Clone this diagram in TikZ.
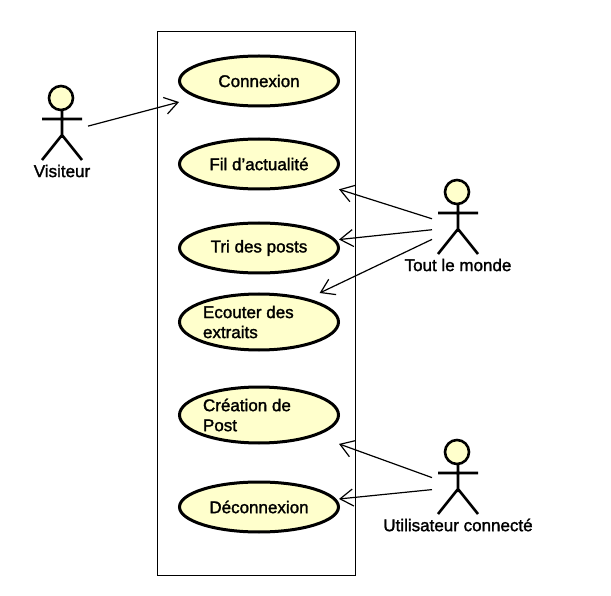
\documentclass[tikz,border=0pt]{standalone}
\usepackage{fontspec}
\setmainfont[FakeBold=1.6]{Liberation Sans}
\usetikzlibrary{arrows.meta,shapes.geometric,calc}
\definecolor{casefill}{RGB}{255,255,204}
\tikzset{
  x=1pt,y=-1pt,
  caseshape/.style={ellipse,draw=black,line width=3pt,fill=casefill,minimum width=159pt,inner sep=0pt,outer sep=0pt},
  casebox/.style={rectangle,draw=none,minimum width=160pt,inner sep=0pt,outer sep=0pt,font=\fontsize{17}{20}\selectfont},
  actorbox/.style={rectangle,draw=none,minimum width=52pt,minimum height=70pt,inner sep=0pt,outer sep=0pt},
  actorline/.style={draw=black,line width=2.6pt},
  actorhead/.style={circle,draw=black,line width=2.6pt,fill=casefill,minimum size=24pt,inner sep=0pt,outer sep=0pt},
  actorlabel/.style={inner sep=0pt,font=\fontsize{17}{20}\selectfont},
  assoc/.style={draw=black,line width=1.2pt,-{Straight Barb[length=13pt,width=17pt,line width=1.2pt]}},
  boundary/.style={draw=black,line width=1pt,fill=white},
}
\newcommand{\usecasenode}[4]{%
  \node[caseshape,minimum height=#3pt-2pt] (#1-shape) at (259,#2) {};
  \node[casebox,minimum height=#3pt] (#1) at (#1-shape) {#4};
}
\newcommand{\actornode}[4]{%
  \node[actorbox] (#1) at (#2,#3) {};
  \draw[actorline] ($(#1)+(0,-24)$) -- ($(#1)+(0,5)$)
    ($(#1)+(-20,-14)$) -- ($(#1)+(20,-14)$)
    ($(#1)+(-20,27)$) -- ($(#1)+(0,2)$) -- ($(#1)+(20,27)$);
  \node[actorhead] (#1-head) at ($(#1)+(-1,-35)$) {};
  \node[actorlabel] (#1-label) at ($(#1)+(0,38)$) {#4};
}
\begin{document}
\begin{tikzpicture}
\useasboundingbox[fill=white] (0,0) rectangle (611,596);
\node[boundary,rectangle,minimum width=198pt,minimum height=543.5pt,inner sep=0pt] (sys) at (256,303.5) {};
\usecasenode{connexion}{81}{52}{Connexion}
\usecasenode{fil}{164}{52}{Fil d'actualité}
\usecasenode{tri}{248}{52}{Tri des posts}
\usecasenode{ecouter}{322}{58}{\parbox{112pt}{\raggedright Ecouter des\\extraits}}
\usecasenode{creation}{415}{58}{\parbox{112pt}{\raggedright Création de\\Post}}
\usecasenode{deconnexion}{507}{52}{Déconnexion}
\actornode{visiteur}{62}{133}{Visiteur}
\actornode{tout}{458}{227}{Tout le monde}
\actornode{util}{458}{487}{Utilisateur connecté}
\draw[assoc] (visiteur) -- (connexion);
\draw[assoc] (tout) -- (fil);
\draw[assoc] (tout) -- (tri);
\draw[assoc] (tout) -- (ecouter);
\draw[assoc] (util) -- (creation);
\draw[assoc] (util) -- (deconnexion);
\end{tikzpicture}
\end{document}
